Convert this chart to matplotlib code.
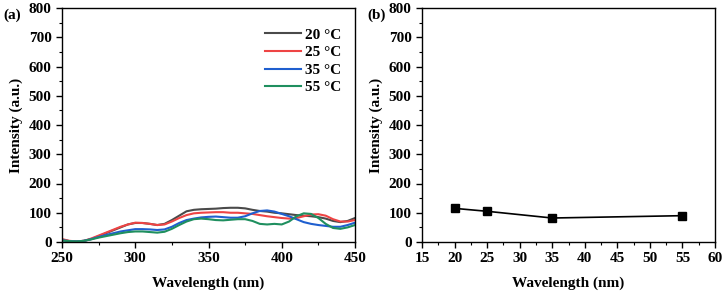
import matplotlib
matplotlib.use("Agg")
import matplotlib.pyplot as plt
from matplotlib.ticker import MultipleLocator

plt.rcParams['font.family'] = ['Liberation Serif', 'DejaVu Serif']
plt.rcParams['font.weight'] = 'bold'

wavelength = [250, 255, 260, 265, 270, 275, 280, 285, 290, 295, 300, 305, 310, 315, 320,
              325, 330, 335, 340, 345, 350, 355, 360, 365, 370, 375, 380, 385, 390, 395,
              400, 405, 410, 415, 420, 425, 430, 435, 440, 445, 450]
i_20 = [8, 3, 2, 4, 10, 20, 30, 40, 50, 60, 65, 65, 62, 58, 62, 75, 90, 105, 110, 112,
        113, 114, 116, 117, 117, 115, 110, 106, 104, 100, 98, 95, 92, 90, 88, 85, 80, 72, 68, 72, 82]
i_25 = [10, 4, 2, 4, 12, 22, 32, 42, 52, 60, 66, 65, 62, 58, 60, 70, 82, 92, 98, 100,
        101, 102, 102, 100, 100, 98, 96, 92, 88, 85, 82, 80, 82, 88, 94, 95, 90, 78, 70, 70, 75]
i_35 = [6, 3, 2, 4, 10, 17, 24, 30, 36, 40, 44, 44, 43, 41, 43, 52, 65, 75, 80, 84,
        86, 87, 85, 83, 83, 88, 98, 106, 108, 104, 96, 88, 78, 68, 62, 58, 55, 52, 52, 58, 66]
i_55 = [5, 3, 2, 4, 9, 15, 20, 25, 30, 34, 36, 36, 34, 32, 35, 45, 58, 70, 78, 80,
        78, 75, 74, 76, 78, 78, 72, 62, 60, 62, 60, 70, 88, 98, 96, 82, 62, 48, 45, 50, 58]
series_labels = ['20 °C', '25 °C', '35 °C', '55 °C']
series_colors = ['#4a4a4a', '#ee4444', '#1f5fcf', '#1f8f5f']

temps = [20, 25, 35, 55]
peak_intensity = [115, 105, 82, 90]

fig = plt.figure(figsize=(7.24, 2.95), dpi=100)
W, H = 724, 295
ax1 = fig.add_axes([62 / W, 1 - 242 / H, (355 - 62) / W, (242 - 8) / H])
ax2 = fig.add_axes([422 / W, 1 - 242 / H, (715 - 422) / W, (242 - 8) / H])

for ys, lab, c in zip([i_20, i_25, i_35, i_55], series_labels, series_colors):
    ax1.plot(wavelength, ys, color=c, lw=1.5, label=lab)

ax1.set_xlim(250, 450)
ax1.set_ylim(0, 800)
ax1.xaxis.set_major_locator(MultipleLocator(50))
ax1.xaxis.set_minor_locator(MultipleLocator(25))
ax1.set_xlabel('Wavelength (nm)', fontsize=11, fontweight='bold', labelpad=8)
ax1.legend(loc='upper right', frameon=False, fontsize=11, handlelength=2.4,
           handletextpad=0.25, labelspacing=0.25, borderaxespad=0.0,
           bbox_to_anchor=(0.975, 0.94))

ax2.plot(temps, peak_intensity, color='black', lw=1.2, marker='s', markersize=6)
ax2.set_xlim(15, 60)
ax2.set_ylim(0, 800)
ax2.xaxis.set_major_locator(MultipleLocator(5))
ax2.xaxis.set_minor_locator(MultipleLocator(2.5))
ax2.set_xlabel('Wavelength (nm)', fontsize=11, fontweight='bold', labelpad=8)

for ax in (ax1, ax2):
    ax.yaxis.set_major_locator(MultipleLocator(100))
    ax.yaxis.set_minor_locator(MultipleLocator(50))
    ax.set_ylabel('Intensity (a.u.)', fontsize=11, fontweight='bold', labelpad=4)
    ax.tick_params(which='major', direction='out', length=4, width=1, labelsize=11)
    ax.tick_params(which='minor', direction='out', length=2, width=0.8)
    for lbl in ax.get_xticklabels() + ax.get_yticklabels():
        lbl.set_fontweight('bold')
    for s in ax.spines.values():
        s.set_linewidth(1)

fig.text(3 / W, 1 - 15 / H, '(a)', fontsize=11, fontweight='bold', va='center')
fig.text(367 / W, 1 - 15 / H, '(b)', fontsize=11, fontweight='bold', va='center')

fig.savefig('out.png', dpi=100)
